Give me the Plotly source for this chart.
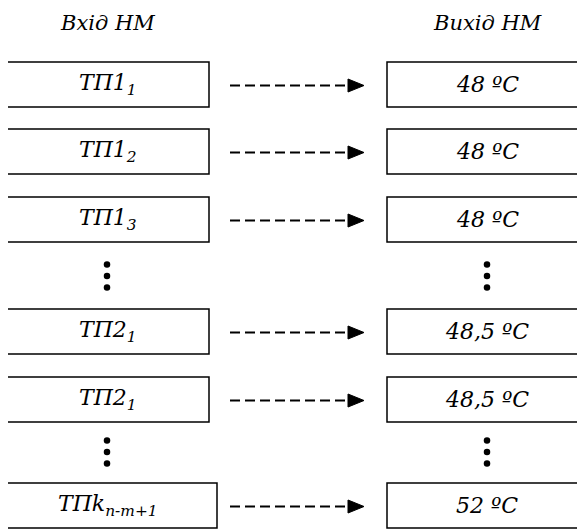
import plotly.graph_objects as go

# ---- content ----
header_in = "Вхід НМ"
header_out = "Вихід НМ"
inputs = ["ТП1<sub>1</sub>", "ТП1<sub>2</sub>", "ТП1<sub>3</sub>", "ТП2<sub>1</sub>", "ТП2<sub>1</sub>", "ТПk<sub>n-m+1</sub>"]
outputs = ["48 ºC", "48 ºC", "48 ºC", "48,5 ºC", "48,5 ºC", "52 ºC"]

# ---- layout (pixel-space positions) ----
W, H = 585, 529
PAGE_OFF = 8  # default body margin of the html page
row_tops = [62, 129, 197, 309, 377, 483]
left_right_edges = [209, 209, 209, 209, 209, 217]
box_h = 45
ellipsis_centers = [276, 452]
left_x0 = 7
right_x0, right_x1 = 387, 589
arrow_x0, arrow_x1, arrow_tip = 230, 350, 364
FONT = "DejaVu Serif"

fig = go.Figure()
shapes = []
annotations = []

for top, lx1, lab_in, lab_out in zip(row_tops, left_right_edges, inputs, outputs):
    cy = top + box_h / 2
    for x0, x1, lab, cx in ((left_x0, lx1, lab_in, 108), (right_x0, right_x1, lab_out, 487)):
        shapes.append(dict(type="rect", xref="x", yref="y", x0=x0, x1=x1, y0=top, y1=top + box_h,
                           line=dict(color="black", width=1.5), fillcolor="white"))
        annotations.append(dict(x=cx, y=cy, xref="x", yref="y", text="<i>" + lab + "</i>", showarrow=False,
                                font=dict(family=FONT, size=22, color="black", style="italic"),
                                xanchor="center", yanchor="middle"))
    shapes.append(dict(type="line", xref="x", yref="y", x0=arrow_x0, x1=arrow_x1, y0=cy + 1, y1=cy + 1,
                       line=dict(color="black", width=2.2, dash="10px,5px")))
    shapes.append(dict(type="path", xref="x", yref="y",
                       path=f"M {arrow_x1 - 2} {cy + 1 - 6.5} L {arrow_tip} {cy + 1} L {arrow_x1 - 2} {cy + 1 + 6.5} Z",
                       fillcolor="black", line=dict(color="black", width=1)))

# vertical ellipses
dx, dy = [], []
for c in ellipsis_centers:
    for off in (-11.5, 0, 11.5):
        for x in (107, 487):
            dx.append(x)
            dy.append(c + off)
fig.add_trace(go.Scatter(x=dx, y=dy, mode="markers",
                         marker=dict(color="black", size=6.5), hoverinfo="skip", showlegend=False))

annotations.append(dict(x=107, y=23, xref="x", yref="y", text="<i>" + header_in + "</i>", showarrow=False,
                        font=dict(family=FONT, size=21, color="black"), xanchor="center", yanchor="middle"))
annotations.append(dict(x=487, y=23, xref="x", yref="y", text="<i>" + header_out + "</i>", showarrow=False,
                        font=dict(family=FONT, size=21, color="black"), xanchor="center", yanchor="middle"))

fig.update_layout(
    width=W, height=H, margin=dict(l=0, r=0, t=0, b=0),
    paper_bgcolor="white", plot_bgcolor="white",
    xaxis=dict(range=[PAGE_OFF, W + PAGE_OFF], visible=False, fixedrange=True),
    yaxis=dict(range=[H + PAGE_OFF, PAGE_OFF], visible=False, fixedrange=True),
    shapes=shapes, annotations=annotations, showlegend=False,
)
fig.write_html("out.html", config={"displayModeBar": False})
